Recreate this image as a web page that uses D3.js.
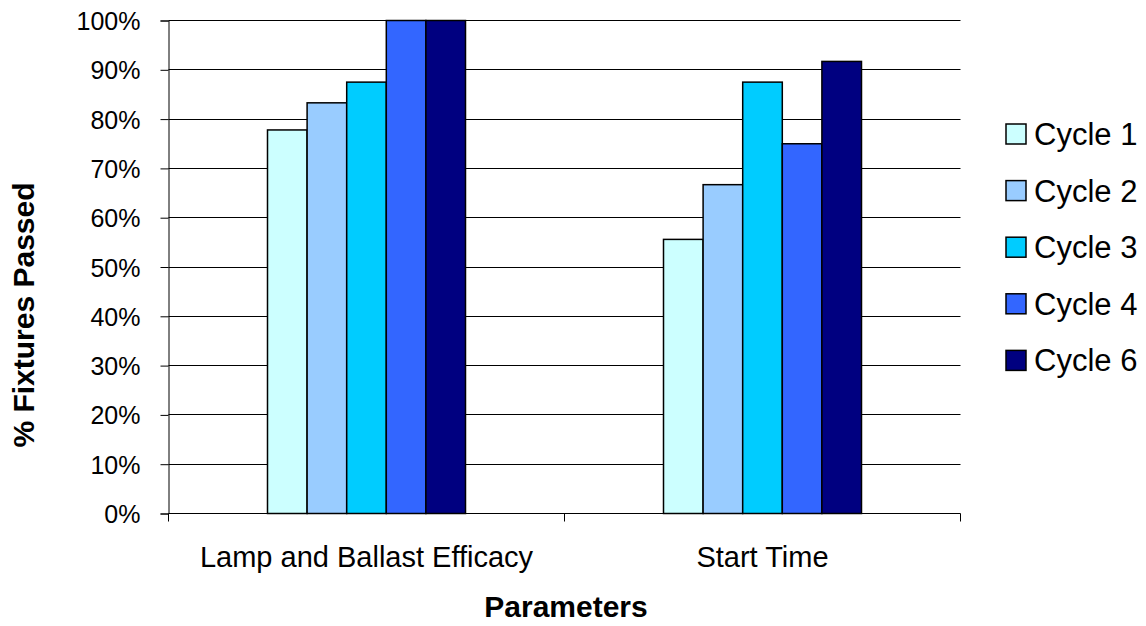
<!DOCTYPE html>
<html>
<head>
<meta charset="utf-8">
<script src="https://cdn.jsdelivr.net/npm/d3@7"></script>
<style>
body { margin: 0; background: #fff; }
text { font-family: "Liberation Sans", Arial, sans-serif; fill: #000; }
</style>
</head>
<body>
<svg id="chart" width="1146" height="626"></svg>
<script>
var categories = ["Lamp and Ballast Efficacy", "Start Time"];
var seriesNames = ["Cycle 1", "Cycle 2", "Cycle 3", "Cycle 4", "Cycle 6"];
var seriesColors = ["#ccffff", "#99ccff", "#00ccff", "#3366ff", "#000080"];
var cycle1 = [0.778, 0.556];
var cycle2 = [0.833, 0.667];
var cycle3 = [0.875, 0.875];
var cycle4 = [1.0, 0.75];
var cycle6 = [1.0, 0.917];
var yTicks = [0, 0.1, 0.2, 0.3, 0.4, 0.5, 0.6, 0.7, 0.8, 0.9, 1.0];

var series = [cycle1, cycle2, cycle3, cycle4, cycle6];

var svg = d3.select("#chart");
var plotLeft = 168.5, plotRight = 960.5, plotTop = 20.5, plotBottom = 513.5;

var x = d3.scaleBand().domain(categories).range([plotLeft, plotRight]).padding(0);
var y = d3.scaleLinear().domain([0, 1]).range([plotBottom, plotTop]);

// gridlines
svg.append("g").selectAll("line").data(yTicks.slice(1)).enter().append("line")
	.attr("x1", plotLeft).attr("x2", plotRight)
	.attr("y1", function(d){ return Math.round(y(d) - 0.5) + 0.5; })
	.attr("y2", function(d){ return Math.round(y(d) - 0.5) + 0.5; })
	.attr("stroke", "#000").attr("stroke-width", 1);

// bars, half the category width, centred
var inner = d3.scaleBand().domain(d3.range(seriesNames.length))
	.range([0, x.bandwidth() / 2]);
var offset = x.bandwidth() / 4;

var groups = svg.append("g").selectAll("g").data(categories).enter().append("g")
	.attr("transform", function(d){ return "translate(" + (x(d) + offset) + ",0)"; });

groups.selectAll("rect").data(function(d, i){
		return series.map(function(s, j){ return {v: s[i], j: j}; });
	}).enter().append("rect")
	.attr("x", function(d){ return inner(d.j); })
	.attr("y", function(d){ return y(d.v); })
	.attr("width", inner.bandwidth())
	.attr("height", function(d){ return plotBottom - y(d.v); })
	.attr("fill", function(d){ return seriesColors[d.j]; })
	.attr("stroke", "#000").attr("stroke-width", 1.5);

// y axis
var yAxis = svg.append("g").attr("transform", "translate(" + plotLeft + ",0)")
	.call(d3.axisLeft(y).tickValues(yTicks).tickFormat(d3.format(".0%")).tickSize(8).tickPadding(20));
yAxis.select(".domain").attr("stroke", "#000");
yAxis.selectAll(".tick line").attr("stroke", "#000");
yAxis.selectAll("text").attr("font-family", null).attr("fill", null)
	.style("font-size", "25px").attr("dy", "0.36em");

// x axis
var xAxis = svg.append("g").attr("transform", "translate(0," + plotBottom + ")");
xAxis.append("line").attr("x1", plotLeft).attr("x2", plotRight).attr("stroke", "#000");
xAxis.selectAll(".tk").data([plotLeft, plotLeft + x.bandwidth(), plotRight]).enter().append("line")
	.attr("x1", function(d){ return d; }).attr("x2", function(d){ return d; })
	.attr("y1", 0).attr("y2", 8).attr("stroke", "#000");
xAxis.selectAll(".lbl").data(categories).enter().append("text")
	.attr("x", function(d){ return x(d) + x.bandwidth() / 2; })
	.attr("y", 53)
	.attr("text-anchor", "middle")
	.style("font-size", "29px")
	.text(function(d){ return d; });

// axis titles
svg.append("text")
	.attr("transform", "translate(34,315) rotate(-90)")
	.attr("text-anchor", "middle")
	.style("font-size", "30px").style("font-weight", "bold")
	.text("% Fixtures Passed");

svg.append("text")
	.attr("x", 566).attr("y", 617)
	.attr("text-anchor", "middle")
	.style("font-size", "30px").style("font-weight", "bold")
	.text("Parameters");

// legend
var legend = svg.append("g").selectAll("g").data(seriesNames).enter().append("g")
	.attr("transform", function(d, i){ return "translate(1005," + (134 + i * 56.6) + ")"; });
legend.append("rect")
	.attr("x", 1).attr("y", -10).attr("width", 20).attr("height", 20)
	.attr("fill", function(d, i){ return seriesColors[i]; })
	.attr("stroke", "#000").attr("stroke-width", 1.5);
legend.append("text")
	.attr("x", 29).attr("y", 11)
	.style("font-size", "31px")
	.text(function(d){ return d; });
</script>
</body>
</html>
